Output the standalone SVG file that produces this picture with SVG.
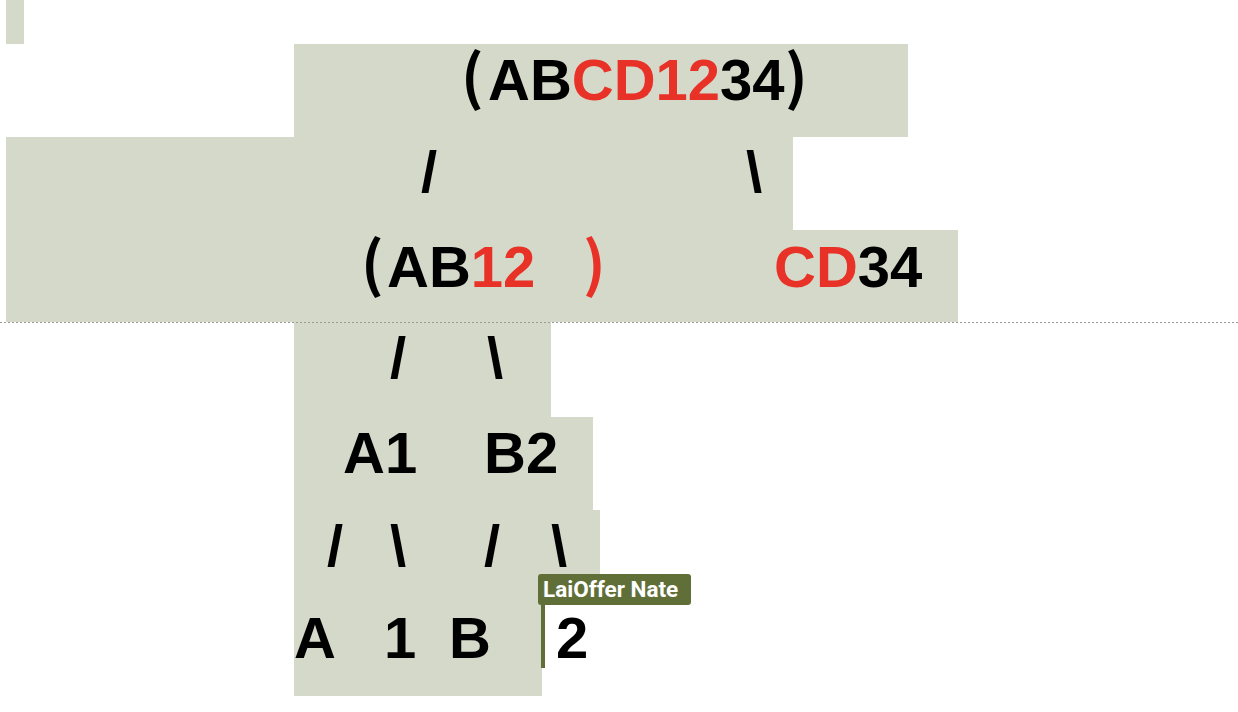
<svg xmlns="http://www.w3.org/2000/svg" width="1238" height="712" viewBox="0 0 1238 712">
<style>
.hl{fill:#d5d9c9}
.t{font-family:"Liberation Sans",Arial,sans-serif;font-weight:bold;font-size:58px;fill:#000}
.p{font-family:"Noto Sans CJK SC","Liberation Sans",sans-serif;font-weight:bold;font-size:60px;fill:#000}
.r{fill:#e83127}
.lbl{font-family:Roboto,"Liberation Sans",sans-serif;font-weight:bold;font-size:22.5px;fill:#fff}
</style>
<rect width="1238" height="712" fill="#fff"/>
<g id="highlights">
<rect class="hl" x="6" y="0" width="18" height="44"/>
<rect class="hl" x="294" y="44" width="614" height="93"/>
<rect class="hl" x="6" y="137" width="787" height="93"/>
<rect class="hl" x="6" y="230" width="952" height="92"/>
<rect class="hl" x="294" y="322" width="257" height="95"/>
<rect class="hl" x="294" y="417" width="299" height="93"/>
<rect class="hl" x="294" y="510" width="306" height="93"/>
<rect class="hl" x="294" y="603" width="248" height="93"/>
</g>
<line x1="0" y1="322.5" x2="1238" y2="322.5" stroke="#9a9a9a" stroke-width="1" stroke-dasharray="2 2"/>
<g id="node-root">
<text class="p" x="461" y="99">(</text>
<text class="t" x="488" y="100">AB<tspan class="r">CD12</tspan>34</text>
<text class="p" x="785" y="99">)</text>
</g>
<g id="connectors">
<text class="t" x="421" y="192">/</text>
<text class="t" x="746" y="192">\</text>
<text class="t" x="390" y="378">/</text>
<text class="t" x="487" y="378">\</text>
<text class="t" x="327" y="566">/</text>
<text class="t" x="390" y="566">\</text>
<text class="t" x="484" y="566">/</text>
<text class="t" x="551" y="566">\</text>
</g>
<g id="node-left">
<text class="p" x="361" y="286">(</text>
<text class="t" x="387" y="287">AB<tspan class="r">12</tspan></text>
<text class="p r" x="583" y="286">)</text>
</g>
<g id="node-right"><text class="t" x="774" y="287"><tspan class="r">CD</tspan>34</text></g>
<g id="node-A1"><text class="t" x="343" y="473">A1</text></g>
<g id="node-B2"><text class="t" x="484" y="473">B2</text></g>
<g id="node-A"><text class="t" x="294" y="658">A</text></g>
<g id="node-1"><text class="t" x="384" y="658">1</text></g>
<g id="node-B"><text class="t" x="449" y="658">B</text></g>
<g id="node-2"><text class="t" x="556" y="658">2</text></g>
<g id="cursor">
<rect x="541" y="600" width="4" height="68" fill="#606f38"/>
<rect x="538" y="574" width="153" height="31" rx="3" fill="#606f38"/>
<text class="lbl" x="543" y="597">LaiOffer Nate</text>
</g>
</svg>
